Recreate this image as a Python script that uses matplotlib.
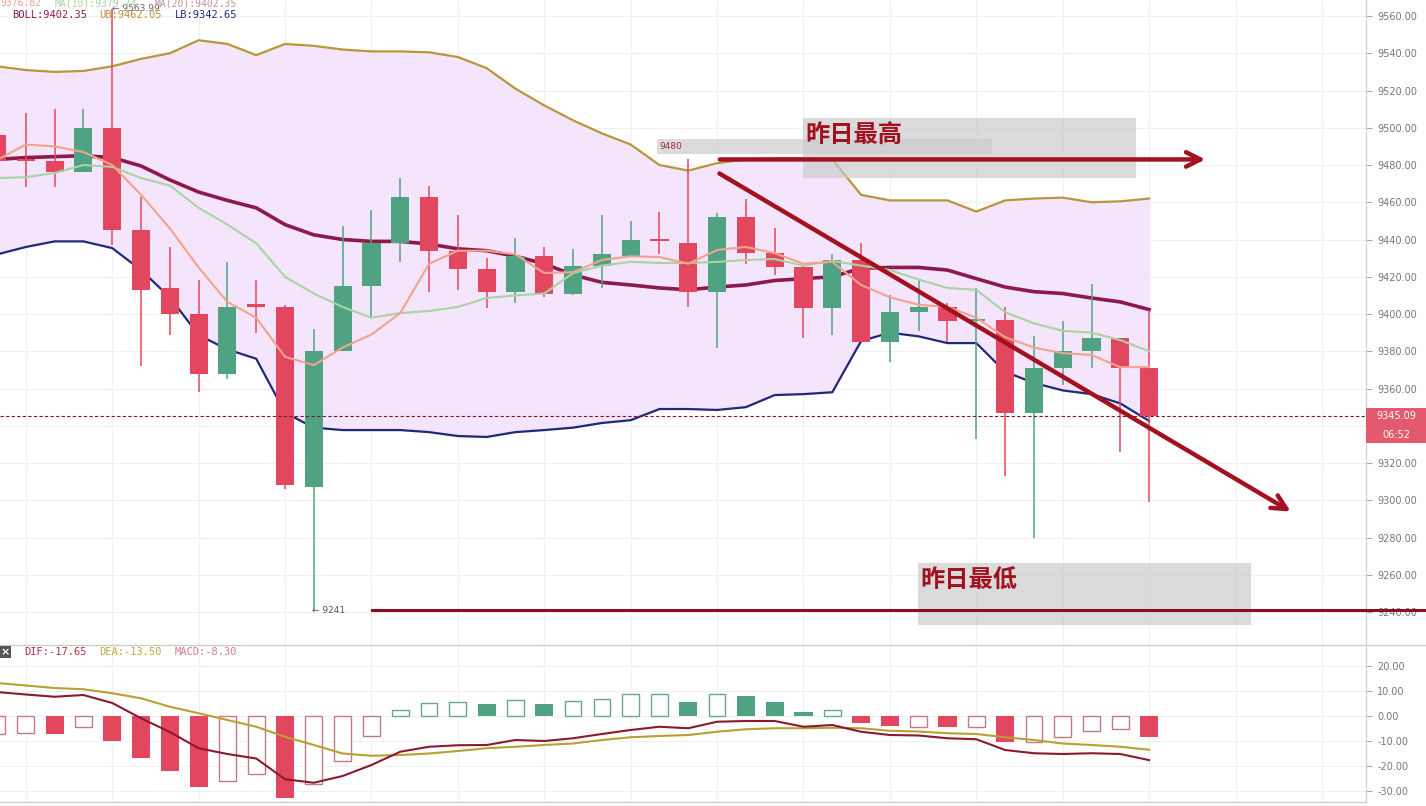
import matplotlib.pyplot as plt
from matplotlib.patches import Rectangle
import numpy as np

# candle data (one entry per bar)
opens  = [9496, 9483, 9482, 9476, 9500, 9445, 9414, 9400, 9368, 9405,
          9404, 9307, 9380, 9415, 9438, 9463, 9434, 9424, 9412, 9431,
          9411, 9426, 9431, 9440, 9438, 9412, 9452, 9433, 9425, 9403,
          9429, 9385, 9401, 9404, 9396, 9397, 9347, 9371, 9380, 9387, 9371]
highs  = [9500, 9508, 9510, 9510, 9564, 9463, 9436, 9418, 9428, 9418,
          9405, 9392, 9447, 9456, 9473, 9469, 9453, 9430, 9441, 9436,
          9435, 9453, 9450, 9455, 9483, 9454, 9462, 9446, 9426, 9432,
          9438, 9410, 9418, 9406, 9414, 9404, 9388, 9396, 9416, 9387, 9402]
lows   = [9478, 9468, 9468, 9476, 9437, 9372, 9389, 9358, 9365, 9390,
          9306, 9241, 9380, 9398, 9428, 9412, 9413, 9403, 9406, 9409,
          9410, 9414, 9431, 9432, 9404, 9382, 9427, 9421, 9387, 9389,
          9385, 9374, 9391, 9385, 9333, 9313, 9280, 9362, 9371, 9326, 9299]
closes = [9482, 9482, 9476, 9500, 9445, 9413, 9400, 9368, 9404, 9404,
          9308, 9380, 9415, 9438, 9463, 9434, 9424, 9412, 9431, 9411,
          9426, 9432, 9440, 9439, 9412, 9452, 9433, 9425, 9403, 9429,
          9385, 9401, 9404, 9396, 9397, 9347, 9371, 9380, 9387, 9371, 9345.09]

ma5  = [9482.7, 9491, 9490, 9487, 9480, 9464, 9446, 9425, 9406.5, 9398,
        9377, 9372.6, 9382, 9389, 9400.5, 9427, 9434, 9434, 9432, 9422,
        9422.5, 9429, 9431, 9430.6, 9427, 9434.4, 9436, 9432.7, 9427, 9428,
        9415.6, 9409, 9405, 9403.8, 9398, 9387.6, 9382, 9379, 9378, 9371.5, 9371.5]
ma10 = [9473, 9473.5, 9475.7, 9480, 9479, 9473, 9469, 9457, 9448, 9438,
        9420, 9411, 9403.8, 9398, 9400.5, 9401.6, 9403.8, 9408.6, 9410, 9411,
        9422, 9426, 9428, 9427.4, 9427.4, 9428, 9429, 9429.5, 9426, 9428.5,
        9426, 9423.6, 9418.5, 9414, 9413, 9401, 9395, 9391, 9390, 9386, 9380]
ub   = [9533, 9531, 9530, 9530.5, 9533, 9537, 9540, 9547, 9545, 9539,
        9545, 9544, 9542, 9541, 9541, 9540.5, 9538, 9532, 9521, 9512,
        9504, 9497, 9491, 9480, 9477, 9481, 9483, 9483.5, 9483.5, 9483,
        9464, 9461, 9461, 9461, 9455, 9461, 9462, 9462.5, 9460, 9460.5, 9462]
boll = [9483, 9484, 9484.5, 9485, 9484, 9479.5, 9472, 9465.5, 9461, 9457,
        9448, 9442.5, 9440, 9439, 9439, 9437.6, 9435, 9434, 9431, 9427,
        9421, 9417, 9415.6, 9414, 9413, 9414.5, 9415.6, 9418, 9419, 9420,
        9424.6, 9425, 9425, 9423.6, 9419, 9414.5, 9412, 9411, 9408.6, 9406.5, 9402.4]
lb   = [9432, 9436, 9439, 9439, 9435.4, 9423.6, 9409, 9388.7, 9381, 9376,
        9347, 9339, 9337.7, 9337.7, 9337.7, 9336.6, 9334.5, 9334, 9336.6, 9337.7,
        9339, 9341.5, 9343, 9349, 9349, 9348.5, 9350, 9356.5, 9357, 9358,
        9385.5, 9390, 9388, 9384.4, 9384.4, 9369, 9363, 9359, 9357, 9352, 9342.6]

# MACD panel
hist = [-7.2, -6.9, -7.2, -4.3, -9.9, -16.7, -22, -28.3, -26, -23.3,
        -32.7, -27.3, -18, -8, 2.4, 5.2, 5.6, 4.7, 6.5, 4.7,
        5.9, 6.7, 8.7, 9, 5.6, 8.7, 8, 5.6, 1.6, 2.6,
        -2.9, -3.9, -4.3, -4.3, -4.5, -10.3, -10.3, -8.3, -5.9, -5.3, -8.3]
hist_filled = [0, 0, 1, 0, 1, 1, 1, 1, 0, 0, 1, 0, 0, 0, 0, 0, 0, 1, 0, 1,
               0, 0, 0, 0, 1, 0, 1, 1, 1, 0, 1, 1, 0, 1, 0, 1, 0, 0, 0, 0, 1]
dif = [9.6, 8.6, 7.7, 8.4, 5.2, -0.9, -6.4, -12.9, -15.2, -17,
       -25.3, -26.7, -24, -19.6, -14.3, -12.3, -11.7, -11.6, -9.6, -10,
       -8.9, -7.2, -5.6, -4.3, -4.9, -2.3, -2.0, -2.0, -4.3, -3.6,
       -6.3, -7.6, -7.8, -8.9, -9.3, -13.6, -14.9, -15.2, -14.9, -15.2, -17.65]
dea = [13.2, 12.2, 11.2, 10.7, 9.1, 7.1, 3.7, 1.1, -1.6, -4.3,
       -8.3, -11.6, -15, -15.9, -15.6, -15, -14, -12.9, -12.3, -11.6,
       -11, -9.6, -8.5, -8.0, -7.6, -6.3, -5.3, -4.9, -4.9, -4.7,
       -4.9, -5.9, -6.2, -6.9, -7.2, -8.5, -9.6, -11, -11.6, -12.3, -13.5]

last_price = 9345.09
prev_high = 9483
prev_low = 9241
price_ticks = list(range(9240, 9561, 20))
macd_ticks = [20, 10, 0, -10, -20, -30]

RED = '#e2475f'
GREEN = '#4fa383'
CJK = ['Noto Sans CJK SC', 'DejaVu Sans']
ANN = '#a3111f'

fig = plt.figure(figsize=(14.26, 8.06), dpi=100)
W = 1366 / 1426
ax = fig.add_axes([0, 1 - 645 / 806, W, 645 / 806])
axm = fig.add_axes([0, 4 / 806, W, (802 - 645) / 806])

x = np.arange(len(opens))
xlim = (0.104, 47.53)

for a in (ax, axm):
    a.set_xlim(*xlim)
    for s in ('left', 'top', 'bottom'):
        a.spines[s].set_visible(False)
    a.spines['right'].set_color('#cccccc')
    a.yaxis.tick_right()
    a.tick_params(axis='y', length=4, color='#aaaaaa', labelsize=7, labelcolor='#777777', pad=4)
    a.set_xticks([])
    for gx in range(1, 48, 3):
        a.axvline(gx, color='#f0f0f0', lw=0.8, zorder=0)

# main panel
ax.set_ylim(9222.3, 9568.6)
ax.set_yticks(price_ticks)
ax.set_yticklabels(['%.2f' % t for t in price_ticks])
for t in price_ticks:
    ax.axhline(t, color='#f0f0f0', lw=0.8, zorder=0)

ax.fill_between(x, ub, lb, color='#f5e5fc', zorder=1)
ax.plot(x, ub, color='#b8963c', lw=1.6, zorder=2)
ax.plot(x, lb, color='#1f2a78', lw=1.6, zorder=2)
ax.plot(x, boll, color='#8c1a4a', lw=2.6, zorder=2)
ax.plot(x, ma10, color='#a9d3a2', lw=1.5, zorder=4)
ax.plot(x, ma5, color='#f0a48e', lw=1.5, zorder=4)

bw = 0.63
for i in range(len(opens)):
    c = GREEN if closes[i] > opens[i] else RED
    ax.vlines(i, lows[i], highs[i], color=c, lw=1.1, zorder=3)
    lo = min(opens[i], closes[i])
    h = max(abs(closes[i] - opens[i]), 1.3)
    ax.add_patch(Rectangle((i - bw / 2, lo), bw, h, color=c, zorder=3, lw=0))

ax.axhline(last_price, color='#7a1a2a', lw=0.8, ls=(0, (3, 2)), zorder=5)

# annotations
ax.add_patch(Rectangle((22.9, 9486), 11.65, 8, color='#cfcfcf', alpha=0.75, lw=0, zorder=6))
ax.text(23.0, 9490, '9480', fontsize=6.5, color='#a0303a', va='center', zorder=7)
ax.add_patch(Rectangle((27.99, 9473), 11.56, 32.2, color='#cccccc', alpha=0.7, lw=0, zorder=6))
ax.text(28.05, 9496, '昨日最高', family=CJK, fontweight='bold', fontsize=17.5,
        color=ANN, va='center', zorder=7)
ax.annotate('', xy=(42.05, prev_high), xytext=(25.0, prev_high),
            arrowprops=dict(arrowstyle='->', lw=3.2, color=ANN, mutation_scale=26), zorder=8)
ax.annotate('', xy=(45.0, 9293.2), xytext=(25.0, 9476.2),
            arrowprops=dict(arrowstyle='->', lw=3.2, color=ANN, mutation_scale=26), zorder=8)

ax.add_patch(Rectangle((31.98, 9233.0), 11.56, 33.3, color='#cccccc', alpha=0.7, lw=0, zorder=6))
ax.text(32.05, 9256.5, '昨日最低', family=CJK, fontweight='bold', fontsize=17.5,
        color=ANN, va='center', zorder=7)
ax.plot([13.02, 49.6], [prev_low, prev_low], color='#8a1020', lw=2.2, clip_on=False, zorder=8)
ax.text(10.95, prev_low, '← 9241', fontsize=6.5, color='#555555', va='center', zorder=7)
ax.text(4.0, 9563.8, '← 9563.99', fontsize=6.5, color='#666666', va='center', zorder=7)

# legends
mono = 'DejaVu Sans Mono'
ytop = 1 - 3 / 806
fig.text(0.0, ytop, '9376.82', family=mono, fontsize=7, color='#f0a48e', va='center')
fig.text(55 / 1426, ytop, 'MA(10):9379.74', family=mono, fontsize=7, color='#a9d3a2', va='center')
fig.text(155 / 1426, ytop, 'MA(20):9402.35', family=mono, fontsize=7, color='#c9909a', va='center')
fig.text(12 / 1426, 1 - 15 / 806, 'BOLL:9402.35', family=mono, fontsize=7.5, color='#8c1a4a', va='center')
fig.text(99 / 1426, 1 - 15 / 806, 'UB:9462.05', family=mono, fontsize=7.5, color='#b8963c', va='center')
fig.text(175 / 1426, 1 - 15 / 806, 'LB:9342.65', family=mono, fontsize=7.5, color='#1f2a78', va='center')

# price tag
fig.patches.append(Rectangle((1366 / 1426, 1 - 443 / 806), 60 / 1426, 35 / 806,
                             transform=fig.transFigure, color='#e35a6e', lw=0, zorder=10))
fig.text(1396 / 1426, 1 - 416 / 806, '%.2f' % last_price, fontsize=7, color='white',
         ha='center', va='center', zorder=11)
fig.text(1396 / 1426, 1 - 435 / 806, '06:52', fontsize=7, color='white',
         ha='center', va='center', zorder=11)

# MACD panel
axm.set_ylim(-34.4, 28.4)
axm.set_yticks(macd_ticks)
axm.set_yticklabels(['%.2f' % t for t in macd_ticks])
for t in macd_ticks:
    axm.axhline(t, color='#f0f0f0', lw=0.8, zorder=0)
for i, v in enumerate(hist):
    c = GREEN if v >= 0 else RED
    if hist_filled[i]:
        axm.bar(i, v, width=bw, color=c, lw=0, zorder=2)
    else:
        edge = '#6aa88e' if v >= 0 else '#c07a88'
        axm.bar(i, v, width=bw - 0.05, facecolor='white', edgecolor=edge, lw=1.0, zorder=2)
axm.plot(x, dea, color='#b8a032', lw=1.5, zorder=3)
axm.plot(x, dif, color='#8c1a2e', lw=1.5, zorder=3)

fig.add_artist(plt.Line2D([0, 1], [1 - 645 / 806, 1 - 645 / 806], color='#cccccc', lw=1))
fig.add_artist(plt.Line2D([0, W], [1 - 802 / 806, 1 - 802 / 806], color='#cccccc', lw=1))
fig.text(1 / 1426, 1 - 652 / 806, '×', fontsize=8, color='white', va='center', fontweight='bold',
         bbox=dict(boxstyle='square,pad=0.1', fc='#555555', ec='none'))
fig.text(24 / 1426, 1 - 652 / 806, 'DIF:-17.65', family=mono, fontsize=7.5, color='#b03040', va='center')
fig.text(99 / 1426, 1 - 652 / 806, 'DEA:-13.50', family=mono, fontsize=7.5, color='#c0a840', va='center')
fig.text(175 / 1426, 1 - 652 / 806, 'MACD:-8.30', family=mono, fontsize=7.5, color='#d87a8a', va='center')

fig.savefig('out.png', dpi=100)
